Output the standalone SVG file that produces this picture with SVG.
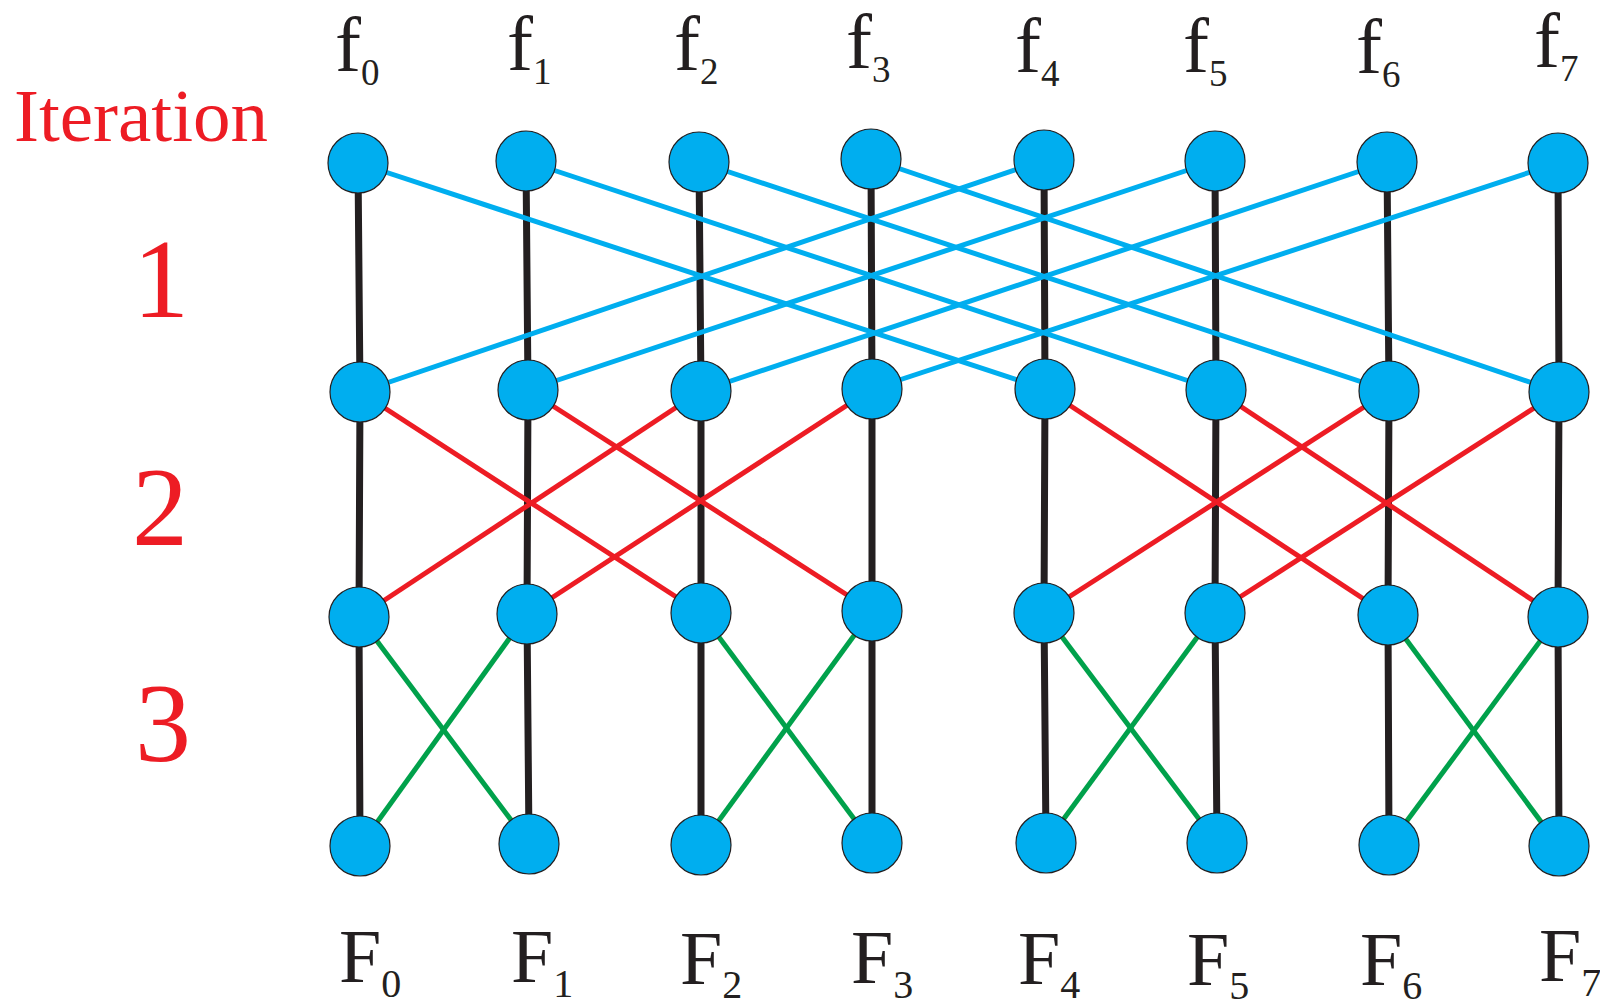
<svg xmlns="http://www.w3.org/2000/svg" width="1600" height="1002" viewBox="0 0 1600 1002">
<style>
.n{fill:#00AEEF;stroke:#231F20;stroke-width:1.2}
.v{stroke:#231F20;stroke-width:7;fill:none}
.b{stroke:#00AEEF;stroke-width:5;fill:none}
.r{stroke:#ED1C24;stroke-width:5;fill:none}
.g{stroke:#00A14B;stroke-width:5;fill:none}
.lab{font-family:"Liberation Serif","Times New Roman",serif;fill:#231F20}
.it{font-family:"Liberation Serif","Times New Roman",serif;fill:#ED1C24}
</style>
<rect width="1600" height="1002" fill="#ffffff"/>
<g id="connectors">
<path class="v" d="M358 163L360 392L359 617L360 846"/>
<path class="v" d="M526 161L528 390L527 614L529 844"/>
<path class="v" d="M699 162L701 391L701 613L701 845"/>
<path class="v" d="M871 159L872 389L872 611L872 843"/>
<path class="v" d="M1044 160L1045 389L1044 613L1046 843"/>
<path class="v" d="M1215 161L1216 390L1215 613L1217 843"/>
<path class="v" d="M1387 162L1389 391L1388 615L1389 845"/>
<path class="v" d="M1558 163L1559 392L1558 617L1559 846"/>
<line class="b" x1="358" y1="163" x2="1045" y2="389"/>
<line class="b" x1="526" y1="161" x2="1216" y2="390"/>
<line class="b" x1="699" y1="162" x2="1389" y2="391"/>
<line class="b" x1="871" y1="159" x2="1559" y2="392"/>
<line class="b" x1="1044" y1="160" x2="360" y2="392"/>
<line class="b" x1="1215" y1="161" x2="528" y2="390"/>
<line class="b" x1="1387" y1="162" x2="701" y2="391"/>
<line class="b" x1="1558" y1="163" x2="872" y2="389"/>
<line class="r" x1="360" y1="392" x2="701" y2="613"/>
<line class="r" x1="528" y1="390" x2="872" y2="611"/>
<line class="r" x1="701" y1="391" x2="359" y2="617"/>
<line class="r" x1="872" y1="389" x2="527" y2="614"/>
<line class="r" x1="1045" y1="389" x2="1388" y2="615"/>
<line class="r" x1="1216" y1="390" x2="1558" y2="617"/>
<line class="r" x1="1389" y1="391" x2="1044" y2="613"/>
<line class="r" x1="1559" y1="392" x2="1215" y2="613"/>
<line class="g" x1="359" y1="617" x2="529" y2="844"/>
<line class="g" x1="527" y1="614" x2="360" y2="846"/>
<line class="g" x1="701" y1="613" x2="872" y2="843"/>
<line class="g" x1="872" y1="611" x2="701" y2="845"/>
<line class="g" x1="1044" y1="613" x2="1217" y2="843"/>
<line class="g" x1="1215" y1="613" x2="1046" y2="843"/>
<line class="g" x1="1388" y1="615" x2="1559" y2="846"/>
<line class="g" x1="1558" y1="617" x2="1389" y2="845"/>
</g>
<g id="nodes-row1">
<g id="n1-0"><circle class="n" cx="358" cy="163" r="30"/></g>
<g id="n1-1"><circle class="n" cx="526" cy="161" r="30"/></g>
<g id="n1-2"><circle class="n" cx="699" cy="162" r="30"/></g>
<g id="n1-3"><circle class="n" cx="871" cy="159" r="30"/></g>
<g id="n1-4"><circle class="n" cx="1044" cy="160" r="30"/></g>
<g id="n1-5"><circle class="n" cx="1215" cy="161" r="30"/></g>
<g id="n1-6"><circle class="n" cx="1387" cy="162" r="30"/></g>
<g id="n1-7"><circle class="n" cx="1558" cy="163" r="30"/></g>
</g>
<g id="nodes-row2">
<g id="n2-0"><circle class="n" cx="360" cy="392" r="30"/></g>
<g id="n2-1"><circle class="n" cx="528" cy="390" r="30"/></g>
<g id="n2-2"><circle class="n" cx="701" cy="391" r="30"/></g>
<g id="n2-3"><circle class="n" cx="872" cy="389" r="30"/></g>
<g id="n2-4"><circle class="n" cx="1045" cy="389" r="30"/></g>
<g id="n2-5"><circle class="n" cx="1216" cy="390" r="30"/></g>
<g id="n2-6"><circle class="n" cx="1389" cy="391" r="30"/></g>
<g id="n2-7"><circle class="n" cx="1559" cy="392" r="30"/></g>
</g>
<g id="nodes-row3">
<g id="n3-0"><circle class="n" cx="359" cy="617" r="30"/></g>
<g id="n3-1"><circle class="n" cx="527" cy="614" r="30"/></g>
<g id="n3-2"><circle class="n" cx="701" cy="613" r="30"/></g>
<g id="n3-3"><circle class="n" cx="872" cy="611" r="30"/></g>
<g id="n3-4"><circle class="n" cx="1044" cy="613" r="30"/></g>
<g id="n3-5"><circle class="n" cx="1215" cy="613" r="30"/></g>
<g id="n3-6"><circle class="n" cx="1388" cy="615" r="30"/></g>
<g id="n3-7"><circle class="n" cx="1558" cy="617" r="30"/></g>
</g>
<g id="nodes-row4">
<g id="n4-0"><circle class="n" cx="360" cy="846" r="30"/></g>
<g id="n4-1"><circle class="n" cx="529" cy="844" r="30"/></g>
<g id="n4-2"><circle class="n" cx="701" cy="845" r="30"/></g>
<g id="n4-3"><circle class="n" cx="872" cy="843" r="30"/></g>
<g id="n4-4"><circle class="n" cx="1046" cy="843" r="30"/></g>
<g id="n4-5"><circle class="n" cx="1217" cy="843" r="30"/></g>
<g id="n4-6"><circle class="n" cx="1389" cy="845" r="30"/></g>
<g id="n4-7"><circle class="n" cx="1559" cy="846" r="30"/></g>
</g>
<g id="labels-top" class="lab" font-size="78">
<text x="335" y="71">f<tspan font-size="37" dy="14">0</tspan></text>
<text x="507" y="70">f<tspan font-size="37" dy="14">1</tspan></text>
<text x="674" y="70">f<tspan font-size="37" dy="14">2</tspan></text>
<text x="846" y="68">f<tspan font-size="37" dy="14">3</tspan></text>
<text x="1015" y="72">f<tspan font-size="37" dy="14">4</tspan></text>
<text x="1183" y="72">f<tspan font-size="37" dy="14">5</tspan></text>
<text x="1356" y="73">f<tspan font-size="37" dy="14">6</tspan></text>
<text x="1534" y="67">f<tspan font-size="37" dy="14">7</tspan></text>
</g>
<g id="labels-bottom" class="lab" font-size="76">
<text x="339" y="982">F<tspan font-size="40" dy="15">0</tspan></text>
<text x="511" y="982">F<tspan font-size="40" dy="15">1</tspan></text>
<text x="680" y="984">F<tspan font-size="40" dy="14">2</tspan></text>
<text x="851" y="983">F<tspan font-size="40" dy="15">3</tspan></text>
<text x="1018" y="984">F<tspan font-size="40" dy="14">4</tspan></text>
<text x="1187" y="985">F<tspan font-size="40" dy="14">5</tspan></text>
<text x="1360" y="985">F<tspan font-size="40" dy="14">6</tspan></text>
<text x="1539" y="981">F<tspan font-size="40" dy="15">7</tspan></text>
</g>
<g id="iterations" class="it">
<text x="14" y="141" font-size="75">Iteration</text>
<text x="161" y="317" font-size="112" text-anchor="middle">1</text>
<text x="160" y="545" font-size="112" text-anchor="middle">2</text>
<text x="163" y="761" font-size="112" text-anchor="middle">3</text>
</g>
</svg>
